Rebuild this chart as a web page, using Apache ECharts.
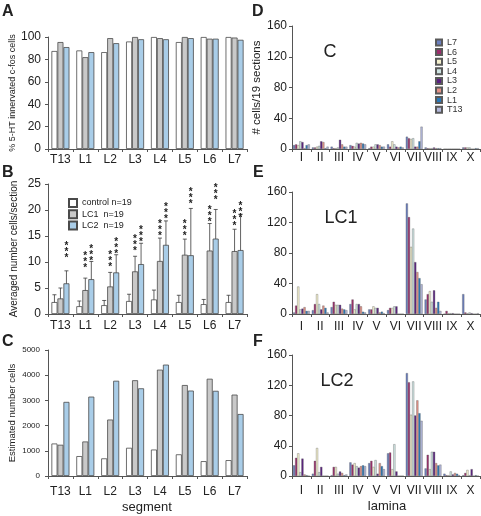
<!DOCTYPE html>
<html><head><meta charset="utf-8">
<script src="https://cdn.jsdelivr.net/npm/echarts@6/dist/echarts.min.js"></script>
<style>html,body{margin:0;padding:0;background:#fff}.p{position:absolute;left:0;top:0;width:481px;height:516px}</style>
</head><body>
<div class="p" id="marks"></div><div class="p" id="axes"></div>
<script>
// ---- Data ----
const segments = ['T13','L1','L2','L3','L4','L5','L6','L7'];
const groupNames = ['control','LC1','LC2'];
// A: % 5-HT innervated c-fos cells
const pctControl = [87.5, 88, 86.5, 96, 100, 95.5, 100, 100];
const pctLC1     = [95.5, 82, 99, 100, 99, 100, 98.5, 99.5];
const pctLC2     = [91, 86.5, 94.5, 98, 98, 99, 98.5, 97.5];
// B: averaged number cells/section (mean, SD)
const avgControl = [2.3, 1.5, 1.7, 2.5, 2.8, 2.3, 1.9, 2.3];
const sdControl  = [1.4, 1.0, 0.9, 1.3, 1.8, 1.3, 0.9, 1.3];
const avgLC1     = [3.0, 4.6, 5.3, 8.2, 10.2, 11.4, 12.2, 12.1];
const sdLC1      = [2.0, 2.3, 2.7, 2.9, 4.4, 3.0, 5.2, 4.2];
const avgLC2     = [5.9, 6.7, 8.0, 9.6, 13.3, 11.3, 14.5, 12.3];
const sdLC2      = [2.4, 3.4, 3.4, 4.0, 4.6, 9.0, 5.6, 6.9];
// significance marks (***): value at which the mark sits, null = none
const starsControl = [null,null,null,null,null,null,null,null];
const starsLC1   = [null, 9.0, 9.1, 12.3, 15.2, 15.2, 17.9, 17.1];
const starsLC2   = [11.0, 10.4, 11.7, 13.9, 18.4, 21.3, 22.1, 18.7];
// C: estimated number cells
const estControl = [1290, 790, 700, 1120, 1050, 860, 590, 630];
const estLC1     = [1240, 1370, 2240, 3800, 4220, 3610, 3860, 3230];
const estLC2     = [2940, 3150, 3780, 3480, 4420, 3390, 3380, 2460];
// D-F: # cells / 19 sections by lamina, rows in order of levels
const laminae = ['I','II','III','IV','V','VI','VII','VIII','IX','X'];
const levels = ['L7','L6','L5','L4','L3','L2','L1','T13'];
const lamControl = [
  [5,2,3,5,1,6,16,2,0,2],
  [6,2,1,4,3,3,14,1,0,2],
  [5,3,1,3,3,10,13,1,0,2],
  [10,4,2,8,6,6,14,1,0,2],
  [9,10,12,7,6,3,3,2,0,0],
  [1,9,6,8,5,2,3,1,0,0],
  [5,1,3,7,3,3,10,1,0,1],
  [6,3,3,6,3,2,29,1,0,1]
];
const lamLC1 = [
  [2,5,9,13,6,5,145,19,0,26],
  [11,13,16,19,6,8,127,26,4,2],
  [36,26,12,6,10,8,88,30,1,1],
  [6,13,12,13,8,10,112,16,1,2],
  [7,6,12,13,8,10,68,31,1,1],
  [9,11,7,10,2,0,55,8,0,0],
  [4,8,6,3,3,0,47,16,0,0],
  [4,2,5,2,1,0,39,4,0,1]
];
const lamLC2 = [
  [14,3,1,18,17,30,136,10,3,1],
  [24,20,12,15,20,31,124,28,1,4],
  [30,37,12,17,12,9,81,9,1,8],
  [5,5,3,13,21,42,125,32,6,1],
  [23,12,6,11,3,6,80,32,2,9],
  [2,0,4,13,17,0,100,17,4,0],
  [1,0,1,14,13,0,83,14,3,1],
  [0,0,2,13,9,0,73,15,1,0]
];

// ---- Styles ----
const FONT = 'Liberation Sans, Arial, sans-serif';
const groupColors = ['#ffffff', '#c9c9c9', '#a9cde8'];
const levelColors = ['#6b7fbf','#9b2d6b','#f6f2cf','#cfe5e3','#5a2180','#e39186','#2a78b8','#b3b8dc'];
const AX = '#555';
const BW = 6;

const grids = [
  {left:48, top:37, width:199, height:112},
  {left:48, top:184, width:199, height:130},
  {left:48, top:350, width:199, height:126},
  {left:292, top:26, width:188, height:123},
  {left:292, top:192, width:188, height:122},
  {left:292, top:355, width:188, height:121}
];
// [category data, label margin]
const xDefs = [[segments,5],[segments,6],[segments,10],[laminae,3],[laminae,7],[laminae,9]];
// [max, interval, name, nameSize, nameGap, labelSize, labelMargin]
const yDefs = [
  [100, 20, '% 5-HT innervated c-fos cells', 9, 31, 12, 7],
  [25, 5, 'Averaged number cells/section', 10, 29, 12, 7],
  [5000, 1000, 'Estimated number cells', 9.5, 31, 8, 8],
  [160, 40, '# cells/19 sections', 11.5, 26, 12, 5],
  [160, 40, null, 12, 26, 12, 5],
  [160, 40, null, 12, 26, 12, 5]
];

function xAxes(visible){
  return xDefs.map((d, gi) => ({type:'category', gridIndex:gi, data:d[0], show:visible,
    axisLine:{show:visible, lineStyle:{color:AX, width:1}},
    axisTick:{show:visible, length:3, lineStyle:{color:AX}},
    axisLabel:{show:visible, fontSize:12, color:'#222', fontFamily:FONT, margin:d[1], interval:0}}));
}
function yAxes(visible){
  return yDefs.map((d, gi) => {
    const ax = {type:'value', gridIndex:gi, min:0, max:d[0], interval:d[1], show:visible,
      axisLine:{show:visible, lineStyle:{color:AX}},
      axisTick:{show:visible, length:3, lineStyle:{color:AX}},
      splitLine:{show:false},
      axisLabel:{show:visible, fontSize:d[5], color:'#222', fontFamily:FONT, margin:d[6], formatter: v => String(v)}};
    if (visible && d[2]) {
      ax.name = d[2]; ax.nameLocation = 'middle'; ax.nameRotate = 90; ax.nameGap = d[4];
      ax.nameTextStyle = {fontSize:d[3], color:'#222', fontFamily:FONT};
    }
    return ax;
  });
}

const series = [];
function groupBars(gi, arrs){
  arrs.forEach((arr, k) => series.push({type:'bar', name:groupNames[k], xAxisIndex:gi, yAxisIndex:gi,
    data:arr, barWidth:BW, barGap:'0%',
    itemStyle:{color:groupColors[k], borderColor:'#4a4a4a', borderWidth:0.8}}));
}
groupBars(0, [pctControl, pctLC1, pctLC2]);
groupBars(1, [avgControl, avgLC1, avgLC2]);
groupBars(2, [estControl, estLC1, estLC2]);

// error bars + significance marks for B
const means = [avgControl, avgLC1, avgLC2];
const sds = [sdControl, sdLC1, sdLC2];
const stars = [starsControl, starsLC1, starsLC2];
[0,1,2].forEach(k => series.push({type:'custom', xAxisIndex:1, yAxisIndex:1,
  data: segments.map((s,i) => [i, means[k][i], sds[k][i], stars[k][i] == null ? -1 : stars[k][i]]),
  renderItem: function(params, api){
    const i = api.value(0), m = api.value(1), sd = api.value(2), st = api.value(3);
    const c = api.coord([i, m]);
    const x = c[0] + (k-1)*BW;
    const yt = api.coord([i, m+sd])[1];
    const yb = api.coord([i, m-sd])[1];
    const ls = {stroke:'#3a3a3a', lineWidth:0.8};
    const ch = [
      {type:'line', shape:{x1:x, y1:yt, x2:x, y2:yb}, style:ls},
      {type:'line', shape:{x1:x-2, y1:yt, x2:x+2, y2:yt}, style:ls},
      {type:'line', shape:{x1:x-2, y1:yb, x2:x+2, y2:yb}, style:ls}
    ];
    if (st >= 0) {
      const ys = api.coord([i, st])[1];
      for (let j = 0; j < 3; j++) {
        ch.push({type:'text', style:{text:'*', x:x, y:ys + 6 - 6*j, align:'center', verticalAlign:'bottom',
          font:'bold 10px ' + FONT, fill:'#222'}});
      }
    }
    return {type:'group', children:ch};
  }}));

function lamBars(gi, rows){
  rows.forEach((arr, k) => series.push({type:'bar', name:levels[k], xAxisIndex:gi, yAxisIndex:gi,
    data:arr, barWidth:2.1, barGap:'0%',
    itemStyle:{color:levelColors[k], borderColor:'#5a5a5a', borderWidth:0.35}}));
}
lamBars(3, lamControl);
lamBars(4, lamLC1);
lamBars(5, lamLC2);

function txt(t, x, y, font, center){
  const s = {text:t, x:x, y:y, font:font + ' ' + FONT, fill:'#222', verticalAlign:'middle'};
  if (center) s.align = 'center';
  return {type:'text', style:s};
}

const marksOption = {
  animation:false,
  grid:grids, xAxis:xAxes(false), yAxis:yAxes(false),
  legend:[
    {data:levels, orient:'vertical', left:435, top:38, padding:0, itemWidth:6, itemHeight:6, itemGap:0.6, icon:'rect',
      textStyle:{fontSize:9, color:'#333', fontFamily:FONT}, selectedMode:false},
    {data:groupNames, orient:'vertical', left:68, top:198, padding:0, itemWidth:8, itemHeight:8, itemGap:1.2, icon:'rect',
      formatter: n => n === 'control' ? 'control n=19' : n + '  n=19',
      textStyle:{fontSize:9, color:'#222', fontFamily:FONT}, selectedMode:false}
  ],
  graphic:[
    txt('A', 2, 12, 'bold 16px'), txt('B', 2, 173, 'bold 16px'), txt('C', 2, 342, 'bold 16px'),
    txt('D', 252, 12, 'bold 16px'), txt('E', 253, 173, 'bold 16px'), txt('F', 253, 342, 'bold 16px'),
    txt('C', 330, 52, '18px', true), txt('LC1', 341, 218, '18px', true), txt('LC2', 337, 381, '18px', true),
    txt('segment', 147, 507, '13px', true), txt('lamina', 387, 506, '13px', true)
  ],
  series:series
};
// axes are drawn by a second instance laid over the marks, with the same grids and scales
const axesOption = {animation:false, grid:grids, xAxis:xAxes(true), yAxis:yAxes(true), series:[]};

echarts.init(document.getElementById('marks')).setOption(marksOption);
echarts.init(document.getElementById('axes')).setOption(axesOption);
</script>
</body></html>
